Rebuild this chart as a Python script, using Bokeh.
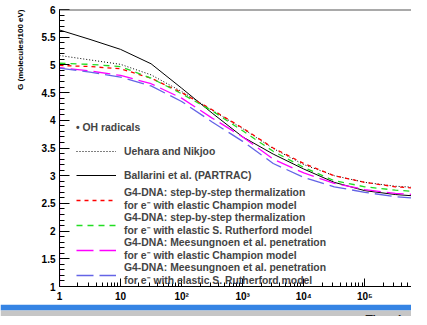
from bokeh.plotting import figure
from bokeh.layouts import column
from bokeh.models import (Range1d, FixedTicker, CustomJSTickFormatter, SingleIntervalTicker,
                          Legend, LegendItem, Span, Title)
from bokeh.core.properties import value
from bokeh.embed import file_html
from bokeh.resources import INLINE

# ---------------- data ----------------
time_ps = [1, 3.16, 10, 31.6, 100, 316, 1000, 3160, 10000, 31600, 100000, 316000, 1000000]

g_uehara     = [5.17, 5.09, 5.01, 4.82, 4.52, 4.18, 3.85, 3.49, 3.20, 3.00, 2.88, 2.81, 2.78]
g_ballarini  = [5.63, 5.46, 5.28, 5.02, 4.58, 4.13, 3.70, 3.39, 3.12, 2.88, 2.73, 2.66, 2.62]
g_sbs_champ  = [4.99, 4.97, 4.93, 4.76, 4.50, 4.19, 3.86, 3.50, 3.22, 3.00, 2.88, 2.80, 2.76]
g_sbs_ruth   = [5.03, 5.01, 4.97, 4.76, 4.48, 4.17, 3.81, 3.44, 3.15, 2.91, 2.80, 2.74, 2.70]
g_mee_champ  = [4.95, 4.89, 4.81, 4.66, 4.40, 4.04, 3.70, 3.30, 3.05, 2.86, 2.75, 2.68, 2.65]
g_mee_ruth   = [4.94, 4.87, 4.78, 4.62, 4.34, 3.97, 3.62, 3.22, 2.97, 2.80, 2.70, 2.62, 2.58]
# vertical rise of the magenta curve at t = 1 ps
mee_champ_start_t = [1]
mee_champ_start_g = [1.0]

series_labels = [
    "Uehara and Nikjoo",
    "Ballarini et al. (PARTRAC)",
    "G4-DNA: step-by-step thermalization\nfor e\u207b with elastic Champion model",
    "G4-DNA: step-by-step thermalization\nfor e\u207b with elastic S. Rutherford model",
    "G4-DNA: Meesungnoen et al. penetration\nfor e\u207b with elastic Champion model",
    "G4-DNA: Meesungnoen et al. penetration\nfor e\u207b with elastic S. Rutherford model",
]
legend_title = "\u2022 OH radicals"

x_ticks = [1, 10, 100, 1000, 10000, 100000]
x_tick_labels = ["1", "10", "10\u00b2", "10\u00b3", "10\u2074", "10\u2075"]
y_ticks = [1, 1.5, 2, 2.5, 3, 3.5, 4, 4.5, 5, 5.5, 6]
y_tick_labels = ["1", "1.5", "2", "2.5", "3", "3.5", "4", "4.5", "5", "5.5", "6"]
y_title = "G (molecules/100 eV)"
x_title = "Time (ps)"

FONT = "Liberation Sans"
W = 411

p = figure(width=W, height=304, x_axis_type="log",
           x_range=Range1d(1, 10 ** 5.764), y_range=Range1d(1, 6),
           output_backend="svg", toolbar_location=None, frame_align=False,
           min_border_left=49, min_border_right=0, min_border_top=9, min_border_bottom=18)
p.xgrid.visible = False
p.ygrid.visible = False
p.outline_line_color = None
p.background_fill_color = "white"
p.border_fill_color = "white"

# x axis
minor_x = [m * d for d in x_ticks for m in range(2, 10)]
p.xaxis.ticker = FixedTicker(ticks=x_ticks, minor_ticks=minor_x)
p.xaxis.formatter = CustomJSTickFormatter(args=dict(tv=x_ticks, tl=x_tick_labels), code="""
    for (let i = 0; i < tv.length; i++) {
        if (Math.abs(Math.log10(tv[i]) - Math.log10(tick)) < 1e-6) return tl[i];
    }
    return '';
""")
p.xaxis.major_tick_in = 8
p.xaxis.major_tick_out = 0
p.xaxis.minor_tick_in = 4
p.xaxis.minor_tick_out = 0
p.xaxis.major_label_standoff = 4

# y axis
p.yaxis.ticker = SingleIntervalTicker(interval=0.5, num_minor_ticks=5)
p.yaxis.formatter = CustomJSTickFormatter(args=dict(tv=y_ticks, tl=y_tick_labels), code="""
    for (let i = 0; i < tv.length; i++) {
        if (Math.abs(tv[i] - tick) < 1e-6) return tl[i];
    }
    return '';
""")
p.yaxis.major_tick_in = 10
p.yaxis.major_tick_out = 0
p.yaxis.minor_tick_in = 5
p.yaxis.minor_tick_out = 0
p.yaxis.major_label_standoff = 4

for ax in (p.xaxis, p.yaxis):
    ax.axis_line_color = "black"
    ax.major_tick_line_color = "black"
    ax.minor_tick_line_color = "black"
    ax.major_label_text_font = FONT
    ax.major_label_text_font_style = "bold"
    ax.major_label_text_font_size = "10px"
    ax.major_label_text_color = "black"

# y axis title, ROOT style at the top end
p.add_layout(Title(text=y_title, align="right", text_font=FONT, text_font_style="bold",
                   text_font_size="8px", text_color="black", standoff=27), "left")

# top frame line
p.add_layout(Span(location=6, dimension="width", line_color="#555555", line_width=2))

# curves
r_ue = p.line(time_ps, g_uehara, line_color="black", line_width=1, line_dash="1 2")
r_ba = p.line(time_ps, g_ballarini, line_color="black", line_width=1)
r_sc = p.line(time_ps, g_sbs_champ, line_color="#ff0000", line_width=1.3, line_dash="4 4")
r_sr = p.line(time_ps, g_sbs_ruth, line_color="#22dd22", line_width=1.3, line_dash="6 5")
r_mc = p.line(mee_champ_start_t + time_ps, mee_champ_start_g + g_mee_champ,
              line_color="#ff00ff", line_width=1.3, line_dash="17 6")
r_mr = p.line(time_ps, g_mee_ruth, line_color="#6464e6", line_width=1.3, line_dash="17 6")

renderers = [r_ue, r_ba, r_sc, r_sr, r_mc, r_mr]
legend = Legend(items=[LegendItem(label=l, renderers=[r]) for l, r in zip(series_labels, renderers)],
                title=legend_title, location=(17, -1), orientation="vertical",
                glyph_width=40, glyph_height=20, label_height=24, label_standoff=8,
                spacing=0, padding=0, margin=0, title_standoff=6,
                border_line_color=None, background_fill_alpha=0)
legend.label_text_font = FONT
legend.label_text_font_style = "bold"
legend.label_text_font_size = "10.4px"
legend.label_text_line_height = 1.15
legend.title_text_font = FONT
legend.title_text_font_style = "bold"
legend.title_text_font_size = "10.4px"
p.add_layout(legend, "center")

# ---- strip below the chart (screenshot bands with the cut-off x-axis title) ----
STRIP_H = 12
band_bottom = [6, 0]
band_top = [12, 6]
band_colors = ["#3584e4", "#c6c6c6"]

s = figure(width=W, height=STRIP_H, x_range=Range1d(0, W), y_range=Range1d(0, STRIP_H),
           output_backend="svg", toolbar_location=None, frame_align=False,
           x_axis_location=None, y_axis_location=None,
           min_border_left=0, min_border_right=0, min_border_top=0, min_border_bottom=0)
s.xgrid.visible = False
s.ygrid.visible = False
s.outline_line_color = None
s.border_fill_color = "white"
s.quad(left=[0, 0], right=[W, W], bottom=band_bottom, top=band_top,
       fill_color=band_colors, line_color=None)
s.text(x=[365], y=[-3.5], text=[x_title], text_font=value(FONT), text_font_style="bold",
       text_font_size="12px", text_color="#222222", text_align="left",
       text_baseline="alphabetic")

open("out.html", "w").write(file_html(column(p, s, spacing=0), INLINE))
